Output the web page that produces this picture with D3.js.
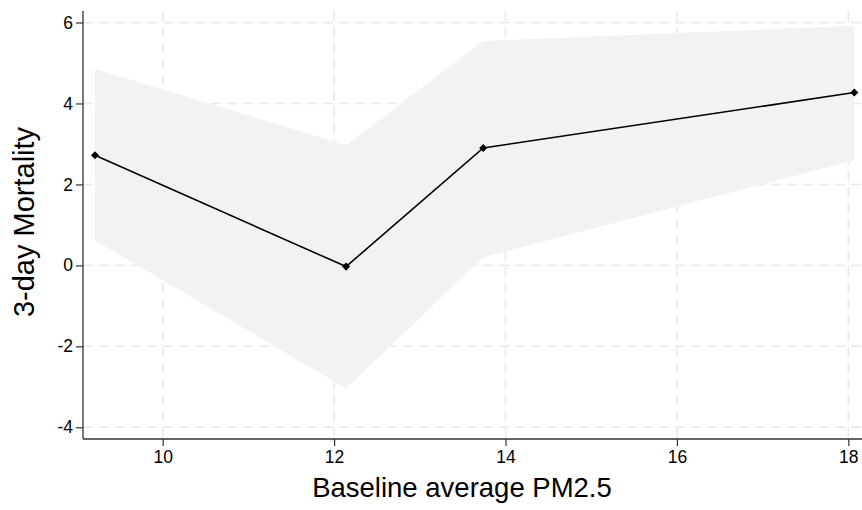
<!DOCTYPE html>
<html>
<head>
<meta charset="utf-8">
<script src="https://cdn.jsdelivr.net/npm/d3@7"></script>
<style>
  body { margin: 0; background: #fff; }
  text { font-family: "Liberation Sans", Arial, sans-serif; }
</style>
</head>
<body>
<svg id="chart" width="862" height="510"></svg>
<script>
// values
const pm25 = [9.21, 12.14, 13.74, 18.07];
const mortality = [2.72, -0.03, 2.9, 4.27];
const ciLow = [0.62, -3.04, 0.2, 2.6];
const ciHigh = [4.85, 2.97, 5.54, 5.92];
const xTicks = [10, 12, 14, 16, 18];
const yTicks = [-4, -2, 0, 2, 4, 6];

const svg = d3.select("#chart");
const plotLeft = 83, plotRight = 862, plotTop = 11, plotBottom = 439;

var x = d3.scaleLinear().domain([10, 18]).range([162.7, 848.3]);
var y = d3.scaleLinear().domain([-4, 6]).range([427.3, 22.5]);

// grid
svg.append("g").selectAll("line")
  .data(xTicks).enter().append("line")
  .attr("x1", d => x(d)).attr("x2", d => x(d))
  .attr("y1", plotTop).attr("y2", plotBottom)
  .attr("stroke", "#e8e8e8").attr("stroke-width", 1.5)
  .attr("stroke-dasharray", "10,6");
svg.append("g").selectAll("line")
  .data(yTicks).enter().append("line")
  .attr("x1", plotLeft).attr("x2", plotRight)
  .attr("y1", d => y(d)).attr("y2", d => y(d))
  .attr("stroke", "#e8e8e8").attr("stroke-width", 1.5)
  .attr("stroke-dasharray", "10,6");

// confidence band
let pts = pm25.map((d, i) => ({ x: d, lo: ciLow[i], hi: ciHigh[i], m: mortality[i] }));
svg.append("path")
  .datum(pts)
  .attr("fill", "#f2f2f2")
  .attr("d", d3.area().x(d => x(d.x)).y0(d => y(d.lo)).y1(d => y(d.hi)));

// line
svg.append("path")
  .datum(pts)
  .attr("fill", "none").attr("stroke", "#000").attr("stroke-width", 1.6)
  .attr("d", d3.line().x(d => x(d.x)).y(d => y(d.m)));

// diamond markers
svg.append("g").selectAll("path")
  .data(pts).enter().append("path")
  .attr("transform", d => "translate(" + x(d.x) + "," + y(d.m) + ")")
  .attr("d", d3.symbol().type(d3.symbolDiamond2).size(42))
  .attr("fill", "#000");

// axes
const xAxis = svg.append("g")
  .attr("transform", "translate(0," + plotBottom + ")")
  .call(d3.axisBottom(x).tickValues(xTicks).tickSize(7).tickPadding(5).tickSizeOuter(0));
xAxis.select(".domain").attr("d", "M" + plotLeft + ",0H" + plotRight);
const yAxis = svg.append("g")
  .attr("transform", "translate(" + plotLeft + ",0)")
  .call(d3.axisLeft(y).tickValues(yTicks).tickSize(7).tickPadding(3).tickSizeOuter(0)
    .tickFormat(d => String(d)));
yAxis.select(".domain").attr("d", "M0," + plotTop + "V" + plotBottom);

svg.selectAll(".domain").attr("stroke", "#333").attr("stroke-width", 1.3);
svg.selectAll(".tick line").attr("stroke", "#333").attr("stroke-width", 1.2);
[xAxis, yAxis].forEach(a => a.attr("font-size", 17.5)
  .attr("font-family", "'Liberation Sans', Arial, sans-serif"));
svg.selectAll(".tick text").style("font-size", "17.5px").attr("fill", "#000");

// titles
svg.append("text")
  .attr("x", 462).attr("y", 497)
  .attr("text-anchor", "middle").style("font-size", "27.5px")
  .text("Baseline average PM2.5");
svg.append("text")
  .attr("transform", "translate(34,222) rotate(-90)")
  .attr("text-anchor", "middle").style("font-size", "29px")
  .text("3-day Mortality");
</script>
</body>
</html>
